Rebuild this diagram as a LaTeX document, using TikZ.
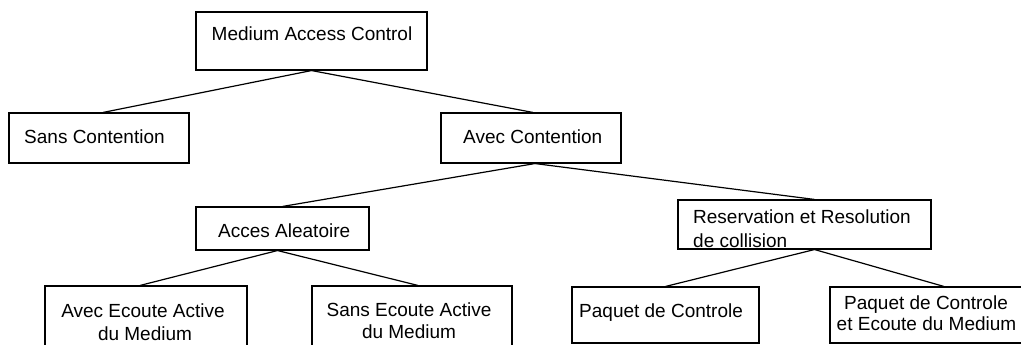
\documentclass[tikz,border=0pt]{standalone}
\usepackage{fontspec}
\setmainfont{Liberation Sans}
\usetikzlibrary{calc}
\begin{document}
\begin{tikzpicture}[x=1pt,y=-1pt,
  box/.style={draw, line width=1.1pt, rectangle, inner sep=0pt},
  lbl/.style={inner sep=0pt, font=\fontsize{19}{23}\selectfont},
  link/.style={line width=1.2pt}]
\clip (0,0) rectangle (1021,345);
\fill[white] (0,0) rectangle (1021,345);
% boxes
\node[box, minimum width=231, minimum height=58] (mac)   at (311.5,41) {};
\node[box, minimum width=180, minimum height=50] (sans)  at (99,138) {};
\node[box, minimum width=180, minimum height=50] (avec)  at (531,138) {};
\node[box, minimum width=173, minimum height=43] (acces) at (282.5,228.5) {};
\node[box, minimum width=253, minimum height=49] (res)   at (804.5,224.5) {};
\node[box, minimum width=202, minimum height=74] (aea)   at (146,323) {};
\node[box, minimum width=200, minimum height=74] (sea)   at (412,323) {};
\node[box, minimum width=187, minimum height=56] (pc)    at (665.5,315) {};
\node[box, minimum width=194, minimum height=56] (pce)   at (927,315) {};
% labels
\node[lbl, anchor=base] (tmac) at (312,41) {Medium Access Control};
\node[lbl, anchor=base west] (tsans) at (24,143) {Sans Contention};
\node[lbl, anchor=base west] (tavec) at (463,143) {Avec Contention};
\node[lbl, anchor=base west] (tacces) at (218,237) {Acces Aleatoire};
\node[lbl, anchor=base west] (tres1) at (693,223) {Reservation et Resolution};
\node[lbl, anchor=base west] (tres2) at (693,247) {de collision};
\node[lbl, anchor=base] (taea1) at (143,317) {Avec Ecoute Active};
\node[lbl, anchor=base] (taea2) at (145,340) {du Medium};
\node[lbl, anchor=base] (tsea1) at (409,316) {Sans Ecoute Active};
\node[lbl, anchor=base] (tsea2) at (409,338) {du Medium};
\node[lbl, anchor=base west] (tpc) at (579,317) {Paquet de Controle};
\node[lbl, anchor=base] (tpce1) at (926,309) {Paquet de Controle};
\node[lbl, anchor=base] (tpce2) at (926.5,330) {et Ecoute du Medium};
% connectors
\draw[link] (mac.south) -- ($(sans.north)+(4,0)$);
\draw[link] (mac.south) -- ($(avec.north)+(2,0)$);
\draw[link] ($(avec.south)+(4,0)$) -- (acces.north);
\draw[link] ($(avec.south)+(4,0)$) -- ($(res.north)+(10,0)$);
\draw[link] ($(acces.south)+(-5,0)$) -- ($(aea.north)+(-6,0)$);
\draw[link] ($(acces.south)+(-5,0)$) -- ($(sea.north)+(6,0)$);
\draw[link] ($(res.south)+(10,0)$) -- (pc.north);
\draw[link] ($(res.south)+(10,0)$) -- ($(pce.north)+(17,0)$);
\end{tikzpicture}
\end{document}
